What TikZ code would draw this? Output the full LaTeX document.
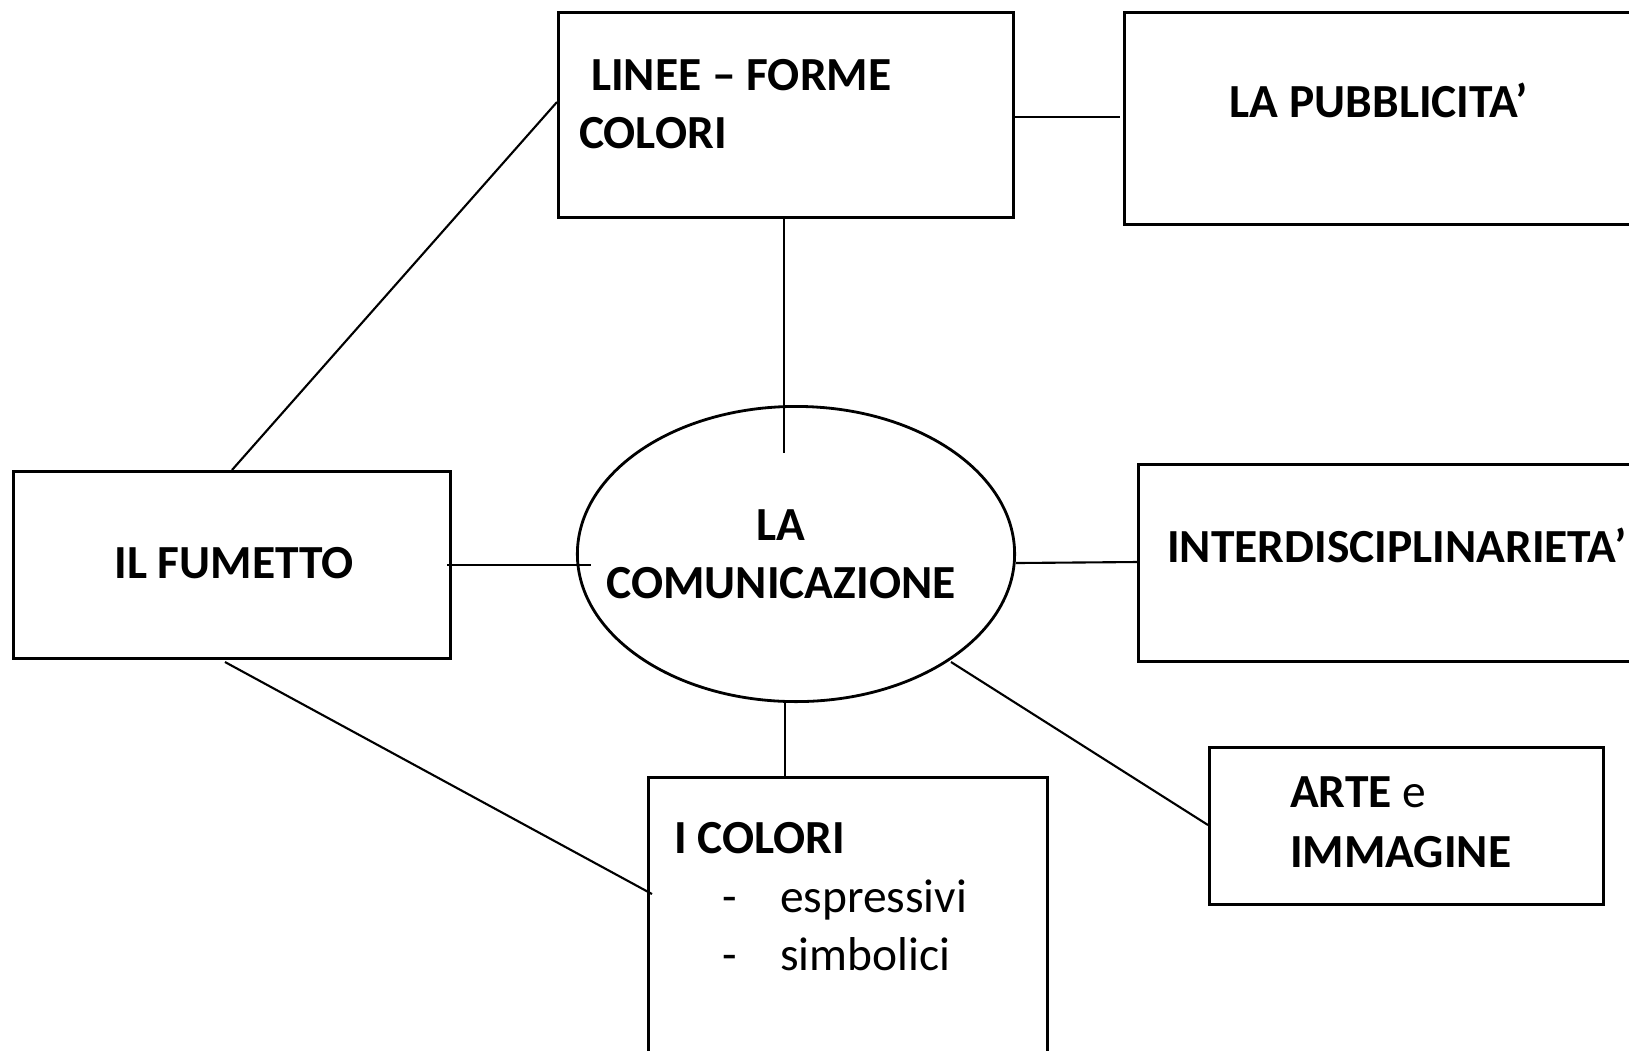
\documentclass[tikz,border=0pt]{standalone}
\usepackage{fontspec}
\setmainfont{Carlito}
\usetikzlibrary{shapes.geometric}

\begin{document}
\begin{tikzpicture}[x=0.01cm, y=-0.01cm, line width=0.6pt,
    box/.style={draw, rectangle, line width=0.8pt, inner sep=0pt, anchor=north west},
    bubble/.style={draw, ellipse, line width=0.8pt, inner sep=0pt},
    boxtext/.style={inner sep=0pt, font=\fontsize{13.5}{16.6}\selectfont\bfseries},
    plaintext/.style={inner sep=0pt, font=\fontsize{13.5}{16.6}\selectfont}]
		\useasboundingbox (0,0) rectangle (1629,1050);
		\node [box, minimum width=4.55cm, minimum height=2.05cm] (linee) at (557, 11) {};
		\node [box, minimum width=6cm, minimum height=2.12cm] (pubblicita) at (1123, 11) {};
		\node [box, minimum width=4.37cm, minimum height=1.87cm] (fumetto) at (12, 470) {};
		\node [box, minimum width=6cm, minimum height=1.97cm] (interdisc) at (1137, 463) {};
		\node [box, minimum width=3.94cm, minimum height=1.57cm] (arte) at (1208, 746) {};
		\node [box, minimum width=3.99cm, minimum height=4cm] (colori) at (647, 776) {};
		\node [bubble, minimum width=4.37cm, minimum height=2.95cm] (comunicazione) at (796, 554) {};
		\node [boxtext, anchor=base west] (linee1) at (590, 90) {LINEE – FORME};
		\node [boxtext, anchor=base west] (linee2) at (578, 148) {COLORI};
		\node [boxtext, anchor=base] (pubblicita1) at (1379, 117) {LA PUBBLICITA’};
		\node [boxtext, anchor=base] (fumetto1) at (234, 578) {IL FUMETTO};
		\node [boxtext, anchor=base] (comunicazione1) at (781, 540) {LA};
		\node [boxtext, anchor=base] (comunicazione2) at (781, 598) {COMUNICAZIONE};
		\node [boxtext, anchor=base west] (interdisc1) at (1166, 562) {INTERDISCIPLINARIETA’};
		\node [boxtext, anchor=base west] (arte1) at (1289, 807) {ARTE \textmd{e}};
		\node [boxtext, anchor=base west] (arte2) at (1289, 867) {IMMAGINE};
		\node [boxtext, anchor=base west] (colori1) at (673, 853) {I COLORI};
		\node [plaintext, anchor=base west] (dash1) at (721, 912) {-};
		\node [plaintext, anchor=base west] (colori2) at (779, 912) {espressivi};
		\node [plaintext, anchor=base west] (dash2) at (721, 970) {-};
		\node [plaintext, anchor=base west] (colori3) at (779, 970) {simbolici};
		\coordinate (1) at (1015, 117);
		\coordinate (2) at (1120, 117);
		\coordinate (3) at (784, 219);
		\coordinate (4) at (784, 453);
		\coordinate (5) at (232, 470);
		\coordinate (6) at (557, 102);
		\coordinate (7) at (447, 565);
		\coordinate (8) at (591, 565);
		\coordinate (9) at (225, 662);
		\coordinate (10) at (652, 894);
		\coordinate (11) at (1016, 563);
		\coordinate (12) at (1137, 562);
		\coordinate (13) at (951, 662);
		\coordinate (14) at (1208, 825);
		\coordinate (15) at (785, 702);
		\coordinate (16) at (785, 776);
		\draw (1) to (2);
		\draw (3) to (4);
		\draw (5) to (6);
		\draw (7) to (8);
		\draw (9) to (10);
		\draw (11) to (12);
		\draw (13) to (14);
		\draw (15) to (16);
    \end{tikzpicture}
\end{document}
